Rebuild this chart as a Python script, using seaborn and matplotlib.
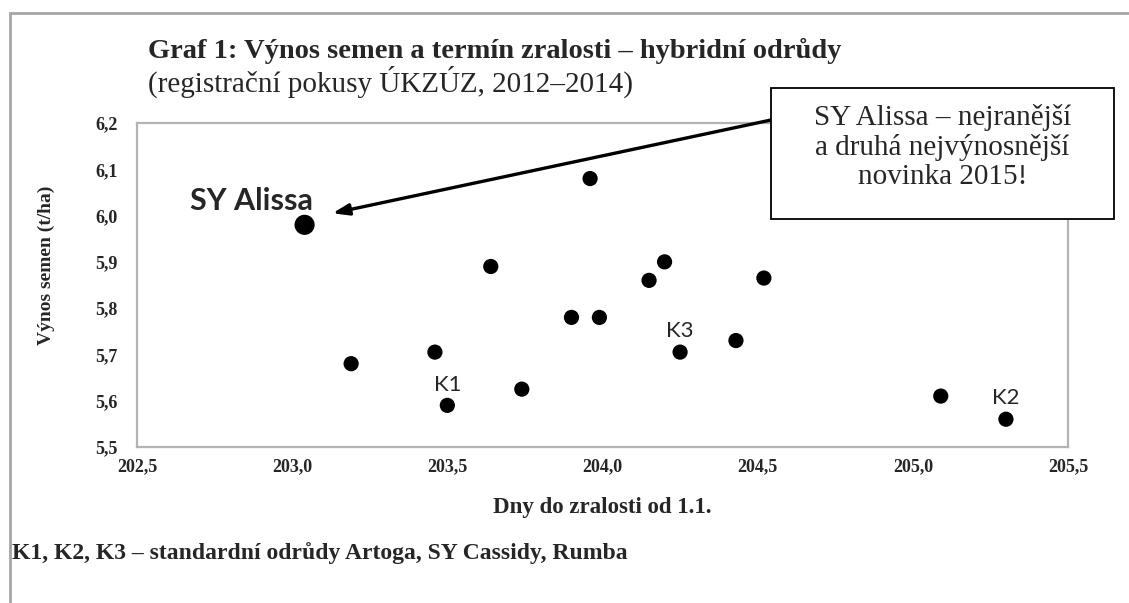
import numpy as np
import pandas as pd
import seaborn as sns
import matplotlib.pyplot as plt
from matplotlib.patches import Rectangle
from matplotlib.ticker import FuncFormatter, MultipleLocator

sns.set_theme(style="white")
plt.rcParams["font.family"] = ["Liberation Serif", "DejaVu Serif"]

# data
days = [203.04, 203.19, 203.46, 203.50, 203.64, 203.74, 203.90, 203.96,
        203.99, 204.15, 204.20, 204.25, 204.43, 204.52, 205.09, 205.30]
yields = [5.98, 5.68, 5.705, 5.59, 5.89, 5.625, 5.78, 6.08,
          5.78, 5.86, 5.90, 5.705, 5.73, 5.865, 5.61, 5.56]
tags = ["SY Alissa", "", "", "K1", "", "", "", "",
        "", "", "", "K3", "", "", "", "K2"]
is_new = [t == "SY Alissa" for t in tags]

df = pd.DataFrame({"days": days, "yield": yields, "tag": tags,
                   "kind": ["new" if n else "other" for n in is_new]})

fig = plt.figure(figsize=(11.29, 6.03), dpi=100)
ax = fig.add_axes([137 / 1129, 1 - 447 / 603, 931 / 1129, 324 / 603])

sns.scatterplot(data=df, x="days", y="yield", size="kind",
                sizes={"new": 210, "other": 120}, color="black",
                edgecolor="none", legend=False, ax=ax)

ax.set_xlim(202.5, 205.5)
ax.set_ylim(5.5, 6.2)
ax.xaxis.set_major_locator(MultipleLocator(0.5))
ax.yaxis.set_major_locator(MultipleLocator(0.1))
comma = FuncFormatter(lambda v, p: f"{v:.1f}".replace(".", ","))
ax.xaxis.set_major_formatter(comma)
ax.yaxis.set_major_formatter(comma)
ax.tick_params(axis="both", length=0, labelsize=13)
ax.tick_params(axis="x", pad=8)
ax.tick_params(axis="y", pad=14)
for lab in ax.get_xticklabels() + ax.get_yticklabels():
    lab.set_fontweight("bold")
for s in ax.spines.values():
    s.set_color("#b3b3b3")
    s.set_linewidth(1.6)

ax.set_xlabel("Dny do zralosti od 1.1.", fontsize=16.5, fontweight="bold")
ax.set_ylabel("Výnos semen (t/ha)", fontsize=14, fontweight="bold")
ax.xaxis.set_label_coords(0.5, -0.155)
ax.yaxis.set_label_coords(-0.088, 0.56)

# point labels
for x, y, t in zip(days, yields, tags):
    if t == "SY Alissa":
        ax.annotate(t, xy=(x, y), xytext=(-38, 17), textcoords="offset points",
                    ha="center", va="center", fontsize=22, fontweight="bold",
                    family=["Lato", "DejaVu Sans"])
    elif t:
        ax.annotate(t, xy=(x, y), xytext=(0, 15), textcoords="offset points",
                    ha="center", va="center", fontsize=16,
                    family=["Lato", "DejaVu Sans"])

# callout box with arrow
box_l, box_t, box_r, box_b = 771, 88, 1114, 219
fig.add_artist(Rectangle((box_l / 1129, 1 - box_b / 603),
                         (box_r - box_l) / 1129, (box_b - box_t) / 603,
                         transform=fig.transFigure, facecolor="white",
                         edgecolor="black", lw=1.3, zorder=5))
fig.text((box_l + box_r) / 2 / 1129, 1 - 147 / 603,
         "SY Alissa – nejranější\na druhá nejvýnosnější\nnovinka 2015!",
         ha="center", va="center", fontsize=21, linespacing=1.17, zorder=6)
ax.annotate("", xy=(203.13, 6.005), xycoords="data",
            xytext=(box_l / 1129, 1 - 120 / 603), textcoords="figure fraction",
            arrowprops=dict(arrowstyle="-|>,head_length=0.8,head_width=0.28",
                            color="black", lw=2.4, shrinkA=0, shrinkB=0),
            annotation_clip=False)

# titles and footnote
fig.text(148 / 1129, 1 - 51 / 603,
         "Graf 1: Výnos semen a termín zralosti – hybridní odrůdy",
         ha="left", va="center", fontsize=20.5, fontweight="bold")
fig.text(148 / 1129, 1 - 82 / 603,
         "(registrační pokusy ÚKZÚZ, 2012–2014)",
         ha="left", va="center", fontsize=21)
fig.text(12 / 1129, 1 - 553 / 603,
         "K1, K2, K3 – standardní odrůdy Artoga, SY Cassidy, Rumba",
         ha="left", va="center", fontsize=17, fontweight="bold")

# outer frame of the chart area
fig.add_artist(Rectangle((10 / 1129, -0.1), 1.2, 1.1 - 13 / 603,
                         transform=fig.transFigure, fill=False,
                         edgecolor="#a6a6a6", lw=2))

fig.savefig("out.png", dpi=100)
